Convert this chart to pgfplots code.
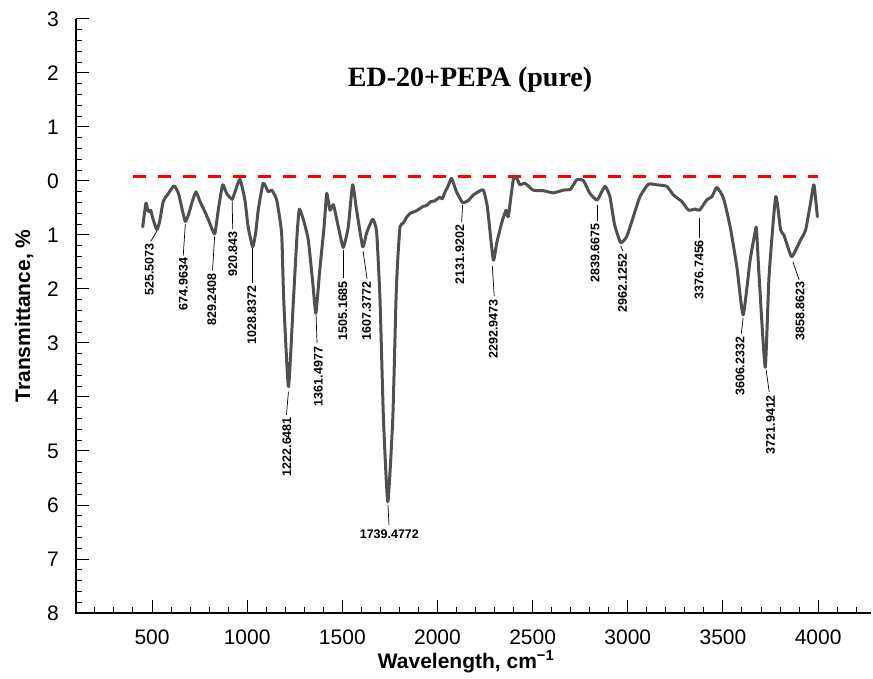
\documentclass[border=0pt]{standalone}
\usepackage{fontspec}
\setmainfont{Liberation Sans}
\newfontfamily\titlefont{Liberation Serif}
\usepackage{pgfplots}
\pgfplotsset{compat=1.18}
\definecolor{curve}{RGB}{80,80,80}
\begin{document}
\begin{tikzpicture}[
 lab/.style={rotate=90, anchor=east, inner sep=0pt, font=\bfseries\fontsize{12.5bp}{14bp}\selectfont},
 lead/.style={black, line width=0.7bp},
 ylab/.style={anchor=east, inner sep=0pt, xshift=-17bp, font=\fontsize{21bp}{25bp}\selectfont},
]
\begin{axis}[
 scale only axis, width=795.5bp, height=594bp,
 xmin=100, xmax=4280, ymin=-8, ymax=3,
 axis line style={draw=none},
 tick align=inside, xtick pos=bottom, ytick pos=left,
 xtick={500,1000,...,4000}, minor xtick={200,300,...,4200},
 ytick={-8,-7,...,3}, yticklabels={},
 minor ytick={-7.8,-7.6,...,2.8},
 major tick length=13bp, minor tick length=6.5bp,
 tick style={black, line width=1bp},
 /pgf/number format/assume math mode=true,
 /pgf/number format/1000 sep={},
 ticklabel style={font=\fontsize{21bp}{25bp}\selectfont},
 xticklabel style={anchor=north, inner sep=0pt, yshift=-17bp},
 clip=false,
 y filter/.expression={-y},
]
\coordinate (BL) at (axis cs:100,-8);
\draw[black, line width=1.3bp] (axis cs:100,3) -- (axis cs:100,-8) -- (axis cs:4280,-8);
\node[ylab] at (axis cs:100,3) {3};
\node[ylab] at (axis cs:100,2) {2};
\node[ylab] at (axis cs:100,1) {1};
\node[ylab] at (axis cs:100,0) {0};
\node[ylab] at (axis cs:100,-1) {1};
\node[ylab] at (axis cs:100,-2) {2};
\node[ylab] at (axis cs:100,-3) {3};
\node[ylab] at (axis cs:100,-4) {4};
\node[ylab] at (axis cs:100,-5) {5};
\node[ylab] at (axis cs:100,-6) {6};
\node[ylab] at (axis cs:100,-7) {7};
\node[ylab] at (axis cs:100,-8) {8};
\addplot[red, line width=3bp, dash pattern=on 13bp off 12bp] coordinates {(400,-0.09)(4000,-0.09)};
\addplot[curve, line width=3bp, line join=round, line cap=round, smooth, tension=0.3] coordinates {
(451,0.85)(468,0.41)(478,0.55)(486,0.57)(493,0.54)(504,0.69)(525,0.9)(540,0.75)
(559,0.38)(586,0.23)(616,0.09)(639,0.23)(660,0.55)(675,0.75)(692,0.62)(709,0.41)
(731,0.2)(752,0.38)(778,0.57)(800,0.75)(829,0.98)(848,0.54)(871,0.07)(892,0.23)
(921,0.34)(936,0.2)(962,-0.03)(988,0.35)(1005,0.85)(1029,1.22)(1045,0.95)(1058,0.54)
(1084,0.04)(1111,0.2)(1129,0.17)(1155,0.35)(1181,0.97)(1192,2.2)(1217,3.81)(1243,2.2)
(1262,1.0)(1274,0.52)(1298,0.75)(1321,1.09)(1345,1.9)(1361,2.45)(1380,1.7)(1404,0.85)
(1418,0.23)(1435,0.54)(1453,0.44)(1479,0.85)(1505,1.23)(1531,0.85)(1554,0.07)(1575,0.54)
(1607,1.22)(1627,0.97)(1659,0.71)(1680,0.94)(1698,2.2)(1716,4.4)(1739,5.94)(1765,4.4)
(1782,2.2)(1791,1.46)(1803,0.85)(1820,0.78)(1840,0.66)(1856,0.6)(1870,0.58)(1890,0.55)
(1908,0.51)(1925,0.47)(1945,0.45)(1965,0.38)(1985,0.37)(2000,0.33)(2013,0.3)(2025,0.33)
(2040,0.2)(2055,0.1)(2074,-0.05)(2100,0.2)(2132,0.4)(2162,0.36)(2188,0.26)(2214,0.2)
(2241,0.17)(2262,0.48)(2293,1.46)(2311,1.15)(2337,0.78)(2360,0.54)(2372,0.66)(2398,-0.02)
(2416,-0.05)(2433,0.07)(2459,0.04)(2503,0.17)(2556,0.18)(2608,0.22)(2661,0.17)(2700,0.15)
(2731,-0.02)(2766,-0.01)(2801,0.23)(2839,0.35)(2880,0.1)(2906,0.29)(2930,0.8)(2962,1.14)
(2994,1.03)(3029,0.66)(3064,0.29)(3108,0.06)(3152,0.07)(3205,0.1)(3240,0.26)(3284,0.38)
(3319,0.54)(3354,0.52)(3377,0.54)(3415,0.35)(3442,0.29)(3468,0.12)(3503,0.32)(3538,0.85)
(3573,1.59)(3606,2.48)(3643,1.46)(3669,0.94)(3676,0.88)(3690,1.77)(3722,3.45)(3742,1.77)
(3777,0.29)(3803,0.91)(3820,1.0)(3859,1.4)(3882,1.28)(3908,1.09)(3934,0.91)(3960,0.41)
(3978,0.07)(3996,0.66)};
% leaders
\draw[lead] (axis cs:525,-0.93) -- (axis cs:493,-1.12);
\draw[lead] (axis cs:675,-0.8) -- (axis cs:664,-1.38);
\draw[lead] (axis cs:829,-1.03) -- (axis cs:818,-1.65);
\draw[lead] (axis cs:921,-0.38) -- (axis cs:924,-0.89);
\draw[lead] (axis cs:1029,-1.25) -- (axis cs:1029,-1.89);
\draw[lead] (axis cs:1217,-3.9) -- (axis cs:1206,-4.33);
\draw[lead] (axis cs:1362,-2.48) -- (axis cs:1367,-3.0);
\draw[lead] (axis cs:1505,-1.28) -- (axis cs:1505,-1.8);
\draw[lead] (axis cs:1609,-1.3) -- (axis cs:1630,-1.81);
\draw[lead] (axis cs:1740,-6.0) -- (axis cs:1745,-6.37);
\draw[lead] (axis cs:2132,-0.44) -- (axis cs:2127,-0.76);
\draw[lead] (axis cs:2288,-1.57) -- (axis cs:2298,-2.13);
\draw[lead] (axis cs:2839,-0.44) -- (axis cs:2839,-0.74);
\draw[lead] (axis cs:2962,-1.2) -- (axis cs:2975,-1.3);
\draw[lead] (axis cs:3377,-0.69) -- (axis cs:3377,-1.05);
\draw[lead] (axis cs:3606,-2.54) -- (axis cs:3596,-2.83);
\draw[lead] (axis cs:3727,-3.5) -- (axis cs:3743,-3.91);
\draw[lead] (axis cs:3868,-1.5) -- (axis cs:3900,-1.83);
% labels
\node[lab] at (axis cs:486,-1.15) {525.5073};
\node[lab] at (axis cs:664,-1.42) {674.9634};
\node[lab] at (axis cs:814,-1.71) {829.2408};
\node[lab] at (axis cs:924,-0.93) {920.843};
\node[lab] at (axis cs:1024,-1.93) {1028.8372};
\node[lab] at (axis cs:1208,-4.37) {1222.6481};
\node[lab] at (axis cs:1374,-3.07) {1361.4977};
\node[lab] at (axis cs:1502,-1.85) {1505.1685};
\node[lab] at (axis cs:1628,-1.86) {1607.3772};
\node[inner sep=0pt, font=\bfseries\fontsize{12.5bp}{14bp}\selectfont] at (axis cs:1747,-6.55) {1739.4772};
\node[lab] at (axis cs:2118,-0.81) {2131.9202};
\node[lab] at (axis cs:2293,-2.19) {2292.9473};
\node[lab] at (axis cs:2828,-0.78) {2839.6675};
\node[lab] at (axis cs:2972,-1.34) {2962.1252};
\node[lab] at (axis cs:3374,-1.09) {3376.7456};
\node[lab] at (axis cs:3590,-2.88) {3606.2332};
\node[lab] at (axis cs:3750,-3.96) {3721.9412};
\node[lab] at (axis cs:3905,-1.86) {3858.8623};
% title and axis labels
\node[anchor=base, font=\titlefont\bfseries\fontsize{28bp}{32bp}\selectfont] at (axis cs:2171,1.75) {ED-20+PEPA (pure)};
\node[anchor=base, font=\bfseries\fontsize{21bp}{25bp}\selectfont] at (axis cs:2150,-9.02) {Wavelength, cm\textsuperscript{−1}};
\node[rotate=90, anchor=center, font=\bfseries\fontsize{21bp}{25bp}\selectfont] at (axis cs:-172.6,-2.5) {Transmittance, \%};
\end{axis}
\pgfresetboundingbox
\path[use as bounding box] (BL) ++(-75.9bp,-66bp) rectangle ++(873bp,679bp);
\end{tikzpicture}
\end{document}
